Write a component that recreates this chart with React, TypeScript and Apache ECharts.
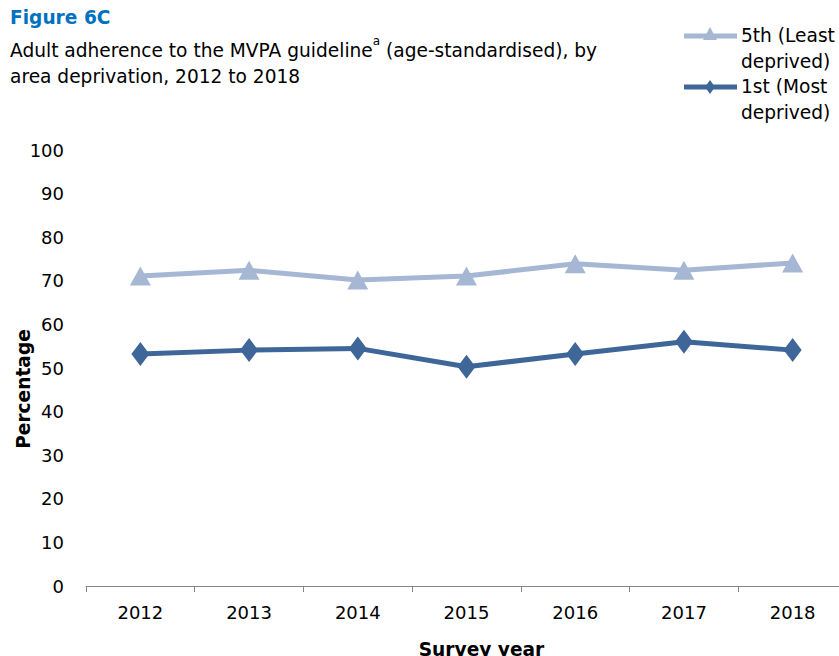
import React, { useEffect, useRef } from "react";
import * as echarts from "echarts";

const years = ["2012", "2013", "2014", "2015", "2016", "2017", "2018"];
const leastDeprived = [71.1, 72.4, 70.2, 71.1, 73.9, 72.4, 74.1];
const mostDeprived = [53.2, 54.1, 54.5, 50.3, 53.2, 56.0, 54.1];
const seriesNames = ["5th (Least deprived)", "1st (Most deprived)"];

const LIGHT = "#A6B7D4";
const DARK = "#3E6699";
const FONT = "DejaVu Sans";
const FS = 18.6;

export default function App() {
  const ref = useRef<HTMLDivElement>(null);
  useEffect(() => {
    if (!ref.current) return;
    const chart = echarts.init(ref.current, null, { renderer: "svg" });
    chart.setOption({
      animation: false,
      backgroundColor: "#ffffff",
      textStyle: { fontFamily: FONT },
      grid: { left: 86, right: -8, top: 150, bottom: 70, containLabel: false, outerBoundsMode: "none" },
      xAxis: {
        type: "category",
        data: years,
        boundaryGap: true,
        name: "Survey year",
        nameLocation: "middle",
        nameGap: 54,
        nameMoveOverlap: false,
        nameTextStyle: {
          fontFamily: FONT,
          fontSize: FS,
          fontWeight: "bold",
          color: "#000",
          padding: [0, 0, 0, 30],
        },
        axisLine: { lineStyle: { color: "#868686", width: 1 } },
        axisTick: { show: true, length: 6, lineStyle: { color: "#868686" } },
        axisLabel: { fontFamily: FONT, fontSize: 18, color: "#000", margin: 17 },
      },
      yAxis: {
        type: "value",
        min: 0,
        max: 100,
        interval: 10,
        name: "Percentage",
        nameLocation: "middle",
        nameGap: 53,
        nameMoveOverlap: false,
        nameTextStyle: {
          fontFamily: FONT,
          fontSize: FS,
          fontWeight: "bold",
          color: "#000",
          padding: [0, 42, 0, 0],
        },
        axisLine: { show: false },
        axisTick: { show: false },
        splitLine: { show: false },
        axisLabel: { fontFamily: FONT, fontSize: 18, color: "#000", margin: 22 },
      },
      series: [
        {
          name: seriesNames[0],
          type: "line",
          data: leastDeprived,
          symbol: "triangle",
          symbolSize: [21, 19],
          lineStyle: { color: LIGHT, width: 5 },
          itemStyle: { color: LIGHT },
        },
        {
          name: seriesNames[1],
          type: "line",
          data: mostDeprived,
          symbol: "diamond",
          symbolSize: [18, 24],
          lineStyle: { color: DARK, width: 5 },
          itemStyle: { color: DARK },
        },
      ],
      graphic: [
        {
          type: "text",
          left: 10,
          top: 8,
          style: { text: "Figure 6C", font: `bold ${FS}px "${FONT}"`, fill: "#0070C0" },
        },
        {
          type: "text",
          left: 10,
          top: 35,
          style: {
            text: "{t|Adult adherence to the MVPA guideline}{s|a}{t| (age-standardised), by}\n{t|area deprivation, 2012 to 2018}",
            rich: {
              t: { fontFamily: FONT, fontSize: FS, fill: "#000", lineHeight: 26, verticalAlign: "bottom" },
              s: { fontFamily: FONT, fontSize: 12, fill: "#000", verticalAlign: "bottom", padding: [0, 0, 13, 0] },
            },
          },
        },
        // legend item 1
        { type: "line", shape: { x1: 684, y1: 36, x2: 737, y2: 36 }, style: { stroke: LIGHT, lineWidth: 5 } },
        { type: "polygon", shape: { points: [[710, 27], [703, 40], [717, 40]] }, style: { fill: LIGHT } },
        {
          type: "text",
          left: 741,
          top: 22,
          style: { text: "5th (Least\ndeprived)", font: `${FS}px "${FONT}"`, fill: "#000", lineHeight: 26 },
        },
        // legend item 2
        { type: "line", shape: { x1: 684, y1: 87, x2: 737, y2: 87 }, style: { stroke: DARK, lineWidth: 5 } },
        { type: "polygon", shape: { points: [[710, 80], [715, 87], [710, 94], [705, 87]] }, style: { fill: DARK } },
        {
          type: "text",
          left: 741,
          top: 73,
          style: { text: "1st (Most\ndeprived)", font: `${FS}px "${FONT}"`, fill: "#000", lineHeight: 26 },
        },
      ],
    });
    return () => chart.dispose();
  }, []);
  return <div ref={ref} style={{ position: "fixed", left: 0, top: 0, width: 839, height: 656 }} />;
}
